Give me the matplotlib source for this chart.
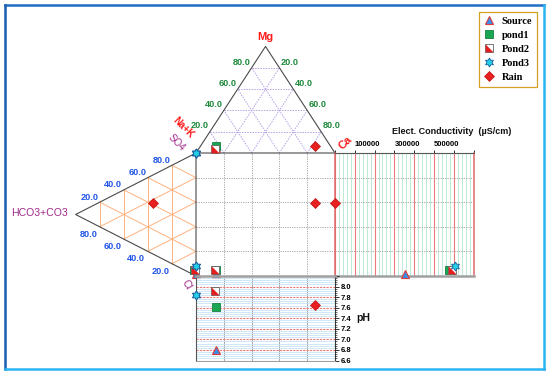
import numpy as np
import matplotlib
matplotlib.use('Agg')
import matplotlib.pyplot as plt
from matplotlib.lines import Line2D
from matplotlib.legend_handler import HandlerTuple
from matplotlib.ticker import MultipleLocator

# ---------------- data ----------------
sample_type = ['Source', 'pond1', 'Pond2', 'Pond3', 'Pond3', 'Rain']
ca   = [12.0, 11.0, 12.0, 0.0, 0.0, 82.0]
mg   = [5.0, 6.6, 3.5, 0.0, 0.0, 7.0]
na_k = [83.0, 82.4, 84.5, 100.0, 100.0, 11.0]
hco3 = [0.0, 2.0, 1.0, 0.0, 0.0, 35.5]
so4  = [1.5, 4.0, 4.5, 100.0, 8.0, 42.0]
cl   = [98.5, 94.0, 94.5, 0.0, 92.0, 22.5]
ph   = [6.8, 7.62, 7.92, 7.84, 7.84, 7.66]
ec   = [354000, 575000, 590000, np.nan, 605000, 200]

legend_labels = ['Source', 'pond1', 'Pond2', 'Pond3', 'Rain']
tri_ticks = [20, 40, 60, 80]
ec_ticks = [0, 100000, 200000, 300000, 400000, 500000, 600000, 700000]
ec_tick_labels = ['', '100000', '', '300000', '', '500000', '', '']
ph_ticks = [6.6, 6.8, 7.0, 7.2, 7.4, 7.6, 7.8, 8.0, 8.2]
ph_tick_labels = ['6.6', '6.8', '7.0', '7.2', '7.4', '7.6', '7.8', '8.0', '']

# ---------------- layout (pixels) ----------------
W, H = 550, 374
SQ_L, SQ_R, SQ_T, SQ_B = 196, 335, 153, 276
EC_R = 473.5
PH_B = 360.5
sx = (SQ_R - SQ_L) / 100.0
sy = (SQ_B - SQ_T) / 100.0
R3 = np.sqrt(3) / 2


def P(px, py):
    return ((px - SQ_L) / sx, (SQ_B - py) / sy)


def cat_xy(c, m, n):
    return c + m / 2.0, 100 + R3 * m


def an_xy(h, s, c):
    return -R3 * h, s + h / 2.0


SANS = 'Liberation Sans'
SERIF = 'Liberation Serif'

fig = plt.figure(figsize=(W / 100, H / 100), dpi=100)
ax = fig.add_axes([0, 0, 1, 1])
ax.set_xlim(-SQ_L / sx, (W - SQ_L) / sx)
ax.set_ylim(-(H - SQ_B) / sy, SQ_B / sy)
ax.axis('off')

edge = '#4a4a4a'
# --- cation triangle grid ---
for k in tri_ticks:
    segs = [(cat_xy(0, k, 100 - k), cat_xy(100 - k, k, 0)),
            (cat_xy(k, 0, 100 - k), cat_xy(k, 100 - k, 0)),
            (cat_xy(100 - k, 0, k), cat_xy(0, 100 - k, k))]
    for a, b in segs:
        ax.plot([a[0], b[0]], [a[1], b[1]], color='#b7a0e6', lw=0.7,
                ls=(0, (1.5, 1.2)), zorder=1)
tri = [cat_xy(0, 0, 100), cat_xy(100, 0, 0), cat_xy(0, 100, 0), cat_xy(0, 0, 100)]
ax.plot([p[0] for p in tri], [p[1] for p in tri], color=edge, lw=0.8, zorder=3)

# --- anion triangle grid ---
for k in tri_ticks:
    segs = [(an_xy(k, 100 - k, 0), an_xy(k, 0, 100 - k)),
            (an_xy(0, k, 100 - k), an_xy(100 - k, k, 0)),
            (an_xy(0, 100 - k, k), an_xy(100 - k, 0, k))]
    for a, b in segs:
        ax.plot([a[0], b[0]], [a[1], b[1]], color='#ffb27f', lw=0.7, zorder=1)
tri = [an_xy(0, 100, 0), an_xy(100, 0, 0), an_xy(0, 0, 100), an_xy(0, 100, 0)]
ax.plot([p[0] for p in tri], [p[1] for p in tri], color=edge, lw=0.8, zorder=3)

# --- square grid ---
for k in tri_ticks:
    ax.plot([k, k], [0, 100], color='#a8a8a8', lw=0.7, ls=(0, (1.2, 1.2)), zorder=1)
    ax.plot([0, 100], [k, k], color='#a8a8a8', lw=0.7, ls=(0, (1.2, 1.2)), zorder=1)

# --- tick labels on triangles ---
green = '#1e8a3c'
blue = '#1f55e8'
for k in tri_ticks:
    ax.annotate(f'{k:.1f}', cat_xy(0, k, 100 - k), xytext=(-10, 5.7),
                textcoords='offset pixels', ha='center', va='center',
                color=green, fontsize=6.6, fontweight='bold', family=SANS)
    ax.annotate(f'{100 - k:.1f}', cat_xy(100 - k, k, 0), xytext=(10.6, 5.7),
                textcoords='offset pixels', ha='center', va='center',
                color=green, fontsize=6.6, fontweight='bold', family=SANS)
    ax.annotate(f'{k:.1f}', an_xy(100 - k, k, 0), xytext=(-10.5, 5.2),
                textcoords='offset pixels', ha='center', va='center',
                color=blue, fontsize=6.6, fontweight='bold', family=SANS)
    ax.annotate(f'{k:.1f}', an_xy(k, 0, 100 - k), xytext=(-11.5, -7.3),
                textcoords='offset pixels', ha='center', va='center',
                color=blue, fontsize=6.6, fontweight='bold', family=SANS)

red = '#ff1a1a'
purple = '#a02a8c'
ax.text(*P(265, 37.5), 'Mg', color=red, fontsize=8, fontweight='bold', family=SANS,
        ha='center', va='center')
ax.text(*P(345, 143), 'Ca', color=red, fontsize=8, fontweight='bold', family=SANS,
        ha='center', va='center', rotation=45)
ax.text(*P(183, 128), 'Na+K', color=red, fontsize=7, fontweight='bold', family=SANS,
        ha='center', va='center', rotation=-45)
ax.text(*P(177, 143), 'SO4', color=purple, fontsize=7, family=SANS,
        ha='center', va='center', rotation=-45)
ax.text(*P(187, 285), 'Cl', color=purple, fontsize=7.5, family=SANS,
        ha='center', va='center', rotation=-60)
ax.text(*P(39, 212.5), 'HCO3+CO3', color=purple, fontsize=7.6, family=SANS,
        ha='center', va='center')
ax.text(*P(391.5, 132), 'Elect. Conductivity  (\u00b5S/cm)', color='#111111',
        fontsize=6.5, fontweight='bold', family=SANS, ha='left', va='center')
ax.text(*P(363, 318), 'pH', color='#111111', fontsize=7.6, fontweight='bold',
        family=SANS, ha='center', va='center')

# --- EC axes ---
ax_ec = fig.add_axes([SQ_R / W, 1 - SQ_B / H, (EC_R - SQ_R) / W, (SQ_B - SQ_T) / H])
ax_ec.set_xlim(0, 700000)
ax_ec.set_ylim(0, 100)
ax_ec.set_facecolor('none')
ax_ec.set_axisbelow(True)
ax_ec.xaxis.tick_top()
ax_ec.set_xticks(ec_ticks)
ax_ec.set_xticklabels(ec_tick_labels, ha='left', fontsize=5.5, fontweight='bold',
                      family=SANS)
ax_ec.xaxis.set_minor_locator(MultipleLocator(20000))
ax_ec.set_yticks(tri_ticks)
ax_ec.tick_params(axis='x', which='major', length=2.5, width=0.7, color='#333333',
                  pad=1)
ax_ec.tick_params(axis='x', which='minor', length=0)
ax_ec.tick_params(axis='y', length=0, labelleft=False)
ax_ec.grid(True, axis='x', which='minor', color='#b5e6cc', lw=0.6)
ax_ec.grid(True, axis='x', which='major', color='#ea7a7a', lw=0.8)
ax_ec.grid(True, axis='y', which='major', color='#a8a8a8', lw=0.7, ls=(0, (1.2, 1.2)))
ax_ec.spines['left'].set_color('#e06a6a')
ax_ec.spines['left'].set_linewidth(1.1)
ax_ec.spines['right'].set_color('#e06a6a')
ax_ec.spines['right'].set_linewidth(1.1)
ax_ec.spines['top'].set_color('#555555')
ax_ec.spines['top'].set_linewidth(0.8)
ax_ec.spines['bottom'].set_color('#a0a0a0')
ax_ec.spines['bottom'].set_linewidth(1.8)

# --- pH axes ---
ax_ph = fig.add_axes([SQ_L / W, 1 - PH_B / H, (SQ_R - SQ_L) / W, (PH_B - SQ_B) / H])
ax_ph.set_xlim(0, 100)
ax_ph.set_ylim(6.6, 8.2)
ax_ph.set_facecolor('none')
ax_ph.set_axisbelow(True)
ax_ph.yaxis.tick_right()
ax_ph.set_yticks(ph_ticks)
ax_ph.set_yticklabels(ph_tick_labels, fontsize=5.5, fontweight='bold', family=SANS)
ax_ph.yaxis.set_minor_locator(MultipleLocator(0.04))
ax_ph.set_xticks(tri_ticks)
ax_ph.tick_params(axis='x', length=0, labelbottom=False)
ax_ph.tick_params(axis='y', which='major', length=3, width=0.7, color='#333333', pad=1.2)
ax_ph.tick_params(axis='y', which='minor', length=1.5, width=0.5, color='#333333')
ax_ph.grid(True, axis='y', which='minor', color='#c6e4f7', lw=0.6)
ax_ph.grid(True, axis='y', which='major', color='#f07a7a', lw=0.8, ls=(0, (2, 1)))
ax_ph.grid(True, axis='x', which='major', color='#a8a8a8', lw=0.7)
ax_ph.spines['top'].set_color('#a0a0a0')
ax_ph.spines['top'].set_linewidth(1.8)
ax_ph.spines['left'].set_color('#555555')
ax_ph.spines['left'].set_linewidth(0.8)
ax_ph.spines['right'].set_color('#333333')
ax_ph.spines['right'].set_linewidth(0.8)
ax_ph.spines['bottom'].set_color('#9a9a9a')
ax_ph.spines['bottom'].set_linewidth(0.7)

# --- markers ---
ang_o = np.deg2rad(90 + 60 * np.arange(6))
ang_i = np.deg2rad(120 + 60 * np.arange(6))
hexa = []
for a, b in zip(ang_o, ang_i):
    hexa.append((np.cos(a), np.sin(a)))
    hexa.append((np.cos(b) / np.sqrt(3), np.sin(b) / np.sqrt(3)))
hexa.append(hexa[0])
half_tri = [(-1, -1), (1, -1), (-1, 1), (-1, -1)]

styles = {
    'Source': [dict(marker='^', ms=6, mfc='#3b8ee6', mec='#e03a3a', mew=0.8)],
    'pond1': [dict(marker='s', ms=5.2, mfc='#1aa653', mec='#17803f', mew=0.6)],
    'Pond2': [dict(marker='s', ms=5.2, mfc='white', mec='#606060', mew=0.6),
              dict(marker=half_tri, ms=5.2, mfc='#e41e1e', mec='#e41e1e', mew=0.2)],
    'Pond3': [dict(marker=hexa, ms=6.5, mfc='#22d0e8', mec='#1a5a9a', mew=0.6)],
    'Rain': [dict(marker='D', ms=4.6, mfc='#e82020', mec='#c01010', mew=0.5)],
}

order = ['Source', 'pond1', 'Pond2', 'Pond3', 'Rain']
for t in order:
    for i, s in enumerate(sample_type):
        if s != t:
            continue
        cx, cy = cat_xy(ca[i], mg[i], na_k[i])
        axx, ay = an_xy(hco3[i], so4[i], cl[i])
        for st in styles[t]:
            ax.plot([cx], [cy], ls='none', clip_on=False, zorder=5, **st)
            ax.plot([axx], [ay], ls='none', clip_on=False, zorder=5, **st)
            ax.plot([cx], [ay], ls='none', clip_on=False, zorder=5, **st)
            if not np.isnan(ec[i]):
                ax_ec.plot([ec[i]], [ay], ls='none', clip_on=False, zorder=5, **st)
            ax_ph.plot([cx], [ph[i]], ls='none', clip_on=False, zorder=5, **st)

# --- legend ---
handles = []
for t in legend_labels:
    hs = [Line2D([], [], ls='none', **st) for st in styles[t]]
    handles.append(tuple(hs) if len(hs) > 1 else hs[0])
leg = fig.legend(handles, legend_labels, loc='upper left',
                 bbox_to_anchor=(479 / W, 1 - 12 / H), frameon=True, fancybox=False,
                 framealpha=1, edgecolor='#d4a020', handlelength=1.0,
                 handletextpad=0.7, labelspacing=0.45, borderpad=0.45,
                 borderaxespad=0, handler_map={tuple: HandlerTuple(ndivide=1)},
                 prop=dict(family=SERIF, weight='bold', size=7.5))
leg.get_frame().set_linewidth(0.9)

# --- outer frame ---
def fl(x0, y0, x1, y1, c, lw):
    fig.add_artist(Line2D([x0 / W, x1 / W], [1 - y0 / H, 1 - y1 / H],
                          transform=fig.transFigure, color=c, lw=lw,
                          solid_capstyle='projecting'))

fl(4.5, 4.5, 544, 4.5, '#1f6fc4', 1.8)
fl(4.5, 4.5, 4.5, 369, '#1a5fae', 1.8)
fl(544, 4.5, 544, 369, '#2ab4f4', 1.8)
fl(4.5, 369, 544, 369, '#2ab4f4', 1.8)

fig.savefig('out.png', dpi=100)
